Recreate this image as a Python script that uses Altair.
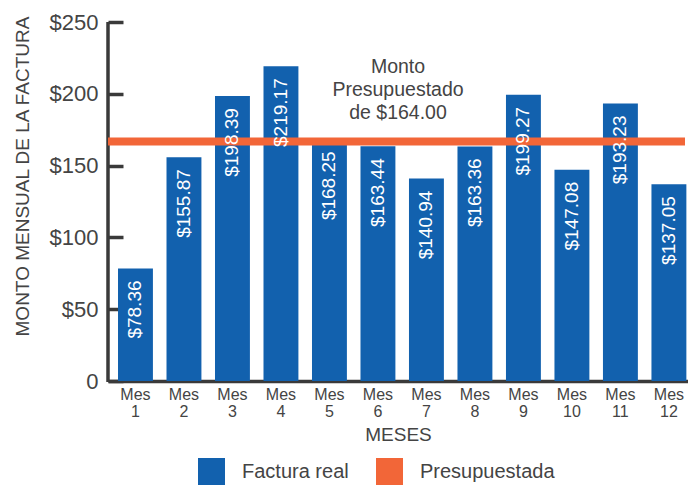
import altair as alt
import pandas as pd

# ---- data ----
meses = ["Mes 1", "Mes 2", "Mes 3", "Mes 4", "Mes 5", "Mes 6",
         "Mes 7", "Mes 8", "Mes 9", "Mes 10", "Mes 11", "Mes 12"]
factura = [78.36, 155.87, 198.39, 219.17, 168.25, 163.44,
           140.94, 163.36, 199.27, 147.08, 193.23, 137.05]
presupuesto_linea = [166.7]
presupuesto_texto = ["Monto\nPresupuestado\nde $164.00"]
series = ["Factura real", "Presupuestada"]
colores = ["#1261AE", "#F26638"]
y_ticks = [0, 50, 100, 150, 200, 250]

FONT = "Liberation Sans"
TXT = "#444444"
AX = "#3a3a3a"

df_bars = pd.DataFrame({
    "mes": meses,
    "valor": factura,
    "serie": ["Factura real"] * len(meses),
    "label": [f"${v:.2f}" for v in factura],
})
df_line = pd.DataFrame({"valor": presupuesto_linea, "texto": presupuesto_texto})

xscale = alt.Scale(domain=meses, paddingInner=0.28, paddingOuter=0.12, align=0.86)
yscale = alt.Scale(domain=[0, 250], nice=False, zero=True)

x_enc = alt.X("mes:N", sort=meses, scale=xscale, title="MESES",
              axis=alt.Axis(labelExpr="split(datum.label, ' ')", labelAngle=0,
                            ticks=False, domainColor=AX, domainWidth=3.5,
                            labelFontSize=16, labelColor=TXT, labelLineHeight=17,
                            labelPadding=5, titleFontSize=19, titleFontWeight="normal",
                            titleColor=TXT, titlePadding=6))

y_enc = alt.Y("valor:Q", scale=yscale, title="MONTO MENSUAL DE LA FACTURA",
              axis=alt.Axis(values=y_ticks,
                            labelExpr="datum.value == 0 ? '0' : '$' + datum.value",
                            domain=False, grid=False, tickSize=15, tickWidth=3.5,
                            tickColor=AX, offset=-15, labelPadding=10,
                            labelFontSize=22, labelColor=TXT,
                            titleFontSize=19, titleFontWeight="normal", titleColor=TXT,
                            titleAngle=270, titleAlign="center", titleBaseline="middle",
                            titleX=-101, titleY=154))

bars = alt.Chart(df_bars).mark_bar().encode(
    x=x_enc, y=y_enc,
    color=alt.Color("serie:N", scale=alt.Scale(domain=series, range=colores),
                    legend=alt.Legend(orient="none", legendX=90, legendY=436,
                                      direction="horizontal", title=None,
                                      symbolType="square", symbolSize=729,
                                      symbolStrokeWidth=0, symbolOpacity=1,
                                      labelFontSize=20, labelColor=TXT,
                                      labelOffset=17, columnPadding=27, padding=0)),
)

yaxis_line = alt.Chart(df_line).mark_rule(color=AX, strokeWidth=3.5).encode(
    x=alt.value(0), y=alt.value(0), y2=alt.value(360))

budget = alt.Chart(df_line).mark_rule(color=colores[1], strokeWidth=8).encode(
    y=y_enc, x=alt.value(0), x2=alt.value(577))

bar_labels = alt.Chart(df_bars).mark_text(
    angle=270, align="right", baseline="middle", dx=-12,
    color="white", fontSize=19).encode(x=x_enc, y=y_enc, text="label:N")

annot = alt.Chart(df_line).mark_text(
    align="center", baseline="bottom", dy=-65, fontSize=19.5,
    lineHeight=23, lineBreak="\n", color=TXT).encode(
    x=alt.value(290), y=y_enc, text="texto:N")

chart = alt.layer(bars, yaxis_line, budget, bar_labels, annot).properties(
    width=580, height=359,
    padding={"left": 100, "top": 14, "right": 0, "bottom": 104},
    autosize=alt.AutoSizeParams(type="none"),
).configure(font=FONT).configure_view(stroke=None)

chart.save("out.html", embed_options={"renderer": "svg", "actions": False})
